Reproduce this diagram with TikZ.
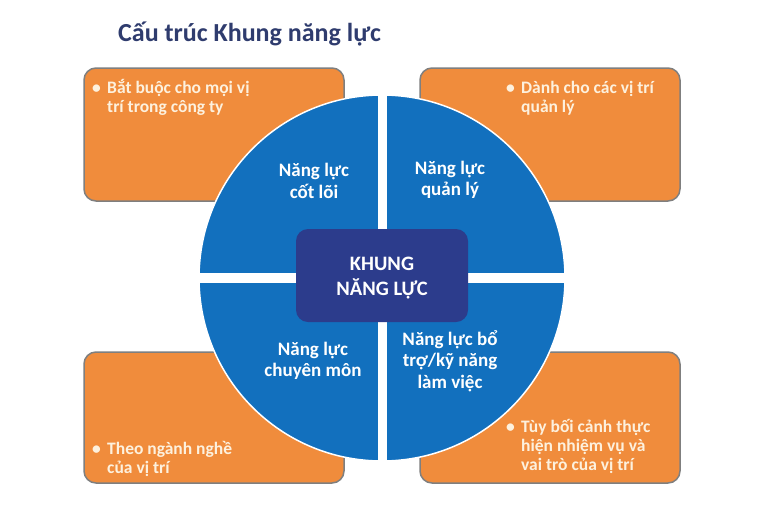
\documentclass[tikz,border=0pt]{standalone}
\usepackage{fontspec}
\setmainfont{Carlito}
\definecolor{orangebox}{HTML}{F08C3C}
\definecolor{bluequad}{HTML}{1270BE}
\definecolor{navybox}{HTML}{2C3C8C}
\definecolor{titlecol}{HTML}{2F3C6E}
\definecolor{cream}{HTML}{FDF1DE}
\definecolor{boxborder}{HTML}{7F7F7F}
\begin{document}
\begin{tikzpicture}[x=1pt,y=-1pt,
  obox/.style={fill=orangebox,draw=boxborder,line width=1.5pt,rounded corners=12pt},
  quadlabel/.style={text=white,font=\bfseries\fontsize{19}{21.5}\selectfont,align=center,inner sep=0pt},
  bullettext/.style={text=cream,font=\bfseries\fontsize{17.5}{19}\selectfont,inner sep=0pt,anchor=base west},
]
\useasboundingbox (0,0) rectangle (768,512);
\fill[white] (0,0) rectangle (768,512);
% title
\node[text=titlecol,font=\bfseries\fontsize{26}{30}\selectfont,anchor=base west,inner sep=0pt] (title) at (118,41) {Cấu trúc Khung năng lực};
% orange boxes
\draw[obox] (84,68) rectangle (344,201);
\draw[obox] (420,68) rectangle (680,201);
\draw[obox] (84,352) rectangle (344,483);
\draw[obox] (420,352) rectangle (680,483);
% circle quadrants
\begin{scope}
\clip (382,278) circle (183);
\fill[bluequad] (150,50) rectangle (377.5,272.5);
\fill[bluequad] (386.5,50) rectangle (620,272.5);
\fill[bluequad] (150,283) rectangle (377.5,500);
\fill[bluequad] (386.5,283) rectangle (620,500);
\end{scope}
\draw[white,line width=1.5pt] (382,278) circle (183);
% central box
\fill[navybox,rounded corners=12pt] (296,229) rectangle (468,322);
\node[text=white,font=\bfseries\fontsize{20.5}{25}\selectfont,align=center,inner sep=0pt] (core) at (382,278) {KHUNG\\NĂNG LỰC};
% quadrant labels
\node[quadlabel] (q1) at (314,181) {Năng lực\\cốt lõi};
\node[quadlabel] (q2) at (450,180) {Năng lực\\quản lý};
\node[quadlabel] (q3) at (313,361) {Năng lực\\chuyên môn};
\node[quadlabel] (q4) at (450,361) {Năng lực bổ\\trợ/kỹ năng\\làm việc};
% bullet texts
\node[bullettext] (b1) at (92,93) {\begin{tabular}[t]{@{}p{15pt}@{}l@{}}•&Bắt buộc cho mọi vị\\&trí trong công ty\end{tabular}};
\node[bullettext] (b2) at (506,93) {\begin{tabular}[t]{@{}p{15pt}@{}l@{}}•&Dành cho các vị trí\\&quản lý\end{tabular}};
\node[bullettext] (b3) at (92,454) {\begin{tabular}[t]{@{}p{15pt}@{}l@{}}•&Theo ngành nghề\\&của vị trí\end{tabular}};
\node[bullettext] (b4) at (506,432) {\begin{tabular}[t]{@{}p{15pt}@{}l@{}}•&Tùy bối cảnh thực\\&hiện nhiệm vụ và\\&vai trò của vị trí\end{tabular}};
\end{tikzpicture}
\end{document}
